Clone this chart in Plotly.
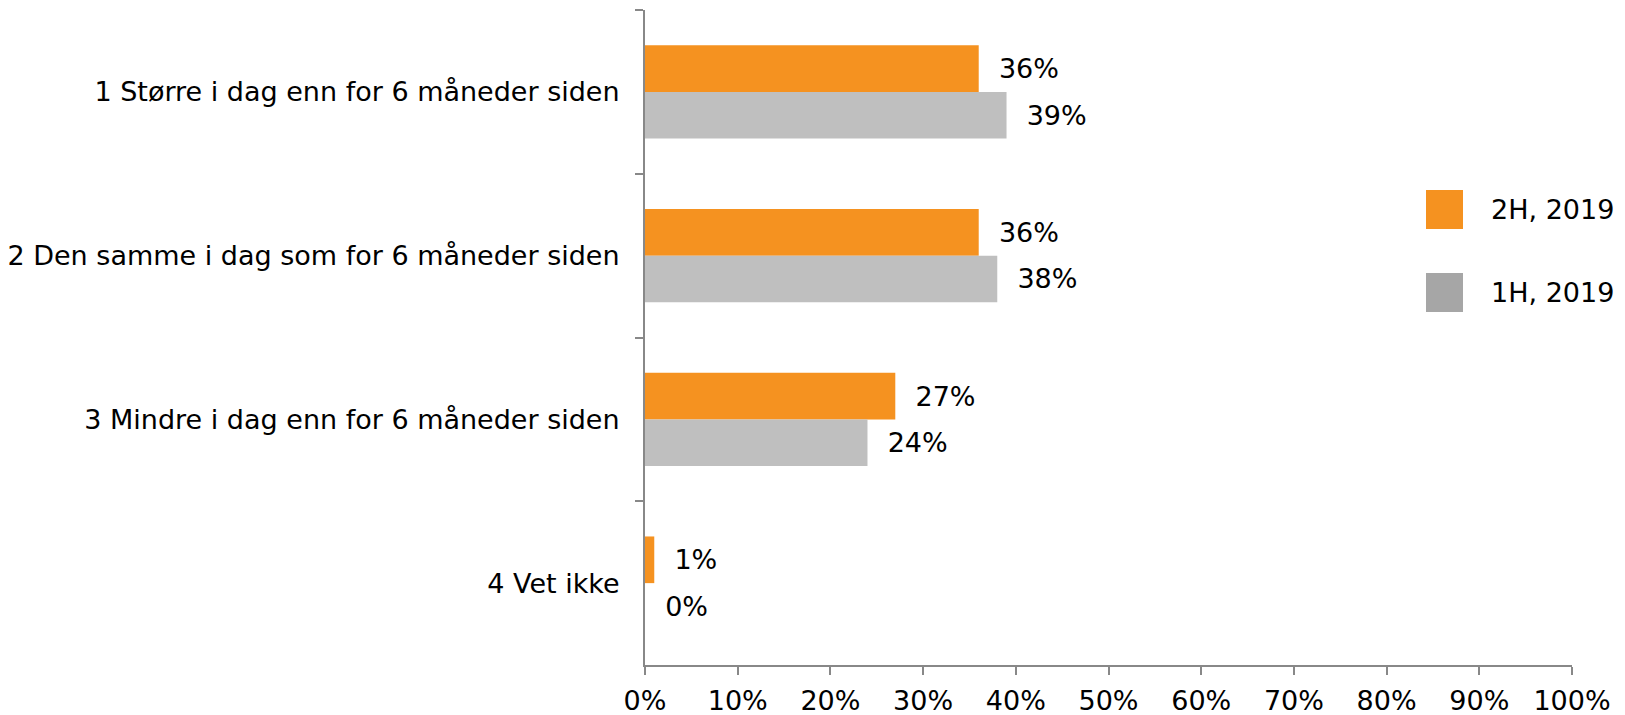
import plotly.graph_objects as go

categories = [
    "1 Større i dag enn for 6 måneder siden",
    "2 Den samme i dag som for 6 måneder siden",
    "3 Mindre i dag enn for 6 måneder siden",
    "4 Vet ikke",
]
h2_2019 = [0.36, 0.36, 0.27, 0.01]
h1_2019 = [0.39, 0.38, 0.24, 0.00]
series_names = ["2H, 2019", "1H, 2019"]
x_ticks = [0, 0.1, 0.2, 0.3, 0.4, 0.5, 0.6, 0.7, 0.8, 0.9, 1.0]

ORANGE = "#F59220"
GREY_BAR = "#BFBFBF"
GREY_LEG = "#A6A6A6"
FONT = "Verdana, DejaVu Sans, sans-serif"
FS = 27

# the page body shifts the figure by 8px, so margins are set in screen coords minus that
OFF = 8
W, H = 1625, 715
L, R, T, B = 645 - OFF, W - (1572 - OFF), 10 - OFF, H - (665 - OFF)
pw, ph = W - L - R, H - T - B


def px(x):
    # screen x -> paper
    return (x - OFF - L) / pw


def py(y):
    # screen y -> paper
    return (H - B - (y - OFF)) / ph


fig = go.Figure()
for name, vals, col in [(series_names[0], h2_2019, ORANGE), (series_names[1], h1_2019, GREY_BAR)]:
    fig.add_trace(go.Bar(
        y=categories, x=vals, name=name, orientation="h",
        marker=dict(color=col, line=dict(width=0)),
        text=["  " + f"{v:.0%}" for v in vals],
        textposition="outside", cliponaxis=False,
        textfont=dict(size=FS, color="#000000", family=FONT),
        showlegend=False,
    ))

# legend drawn by hand (large square swatches)
for i, (name, col) in enumerate(zip(series_names, [ORANGE, GREY_LEG])):
    y0 = 190 + i * 83
    fig.add_shape(type="rect", xref="paper", yref="paper",
                  x0=px(1426), x1=px(1463), y0=py(y0 + 39), y1=py(y0),
                  fillcolor=col, line=dict(width=0))
    fig.add_annotation(xref="paper", yref="paper", x=px(1489), y=py(y0 + 19),
                       text=name, showarrow=False, xanchor="left", yanchor="middle",
                       font=dict(size=FS, color="#000000", family=FONT))

fig.update_layout(
    width=W, height=H,
    margin=dict(l=L, r=R, t=T, b=B, autoexpand=False),
    barmode="group", bargap=0.43, bargroupgap=0,
    plot_bgcolor="white", paper_bgcolor="white",
    font=dict(family=FONT, size=FS, color="#000000"),
)
fig.update_xaxes(
    range=[0, 1], tickvals=x_ticks, tickformat=".0%",
    showgrid=False, zeroline=False,
    showline=True, linecolor="#888888", linewidth=2,
    ticks="outside", ticklen=8, tickcolor="#888888", tickwidth=2,
    ticklabelstandoff=3,
)
fig.update_yaxes(
    autorange="reversed", showgrid=False, zeroline=False,
    showline=True, linecolor="#888888", linewidth=2,
    ticks="outside", tickson="boundaries", ticklen=8, tickcolor="#888888", tickwidth=2,
    ticklabelstandoff=18,
)

fig.write_html("out.html")
